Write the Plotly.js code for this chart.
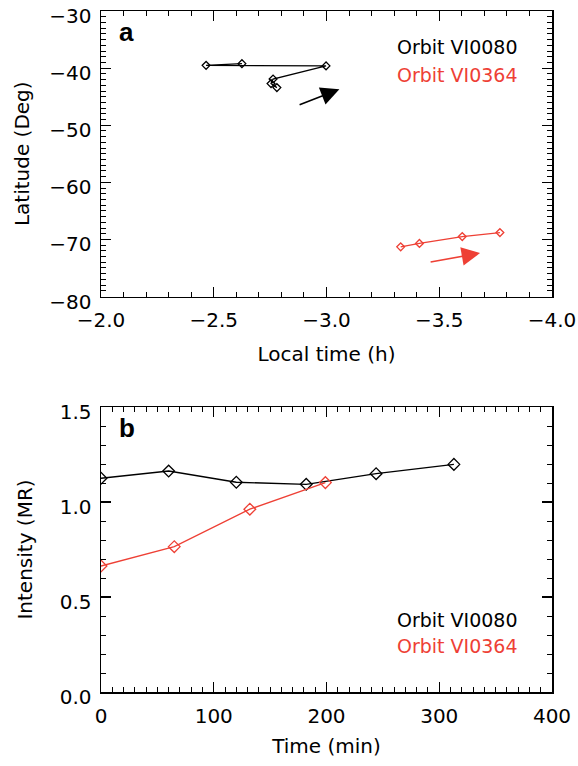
<!DOCTYPE html>
<html>
<head>
<meta charset="utf-8">
<script src="https://cdn.plot.ly/plotly-3.0.1.min.js"></script>
<style>html,body{margin:0;padding:0;background:#fff;}#chart{width:578px;height:766px;}</style>
</head>
<body>
<div id="chart"></div>
<script>
// Panel a: local time (h) vs latitude (deg)
const aBlackTime = [-2.625, -2.466, -2.998, -2.763, -2.754, -2.780];
const aBlackLat  = [-39.2, -39.5, -39.6, -41.9, -42.7, -43.4];
const aRedTime   = [-3.329, -3.412, -3.602, -3.769];
const aRedLat    = [-71.3, -70.7, -69.5, -68.8];
// arrows [tailX, tailY, tipX, tipY]
const blackArrow = [-2.874, -46.5, -3.057, -43.7];
const redArrow   = [-3.455, -74.0, -3.681, -72.4];

// Panel b: time (min) vs intensity (MR)
const bBlackTime = [0, 60, 120, 182, 244, 313];
const bBlackInt  = [1.125, 1.163, 1.104, 1.093, 1.149, 1.198];
const bRedTime   = [0, 65, 132, 199];
const bRedInt    = [0.663, 0.765, 0.962, 1.102];

const legendNames = ['Orbit VI0080', 'Orbit VI0364'];
const panelLetters = ['a', 'b'];

const BLACK = '#000000';
const RED = '#EE4035';
const FONT = 'DejaVu Sans, sans-serif';

const traces = [
  {x: aBlackTime, y: aBlackLat, xaxis: 'x', yaxis: 'y', mode: 'lines+markers',
   line: {color: BLACK, width: 1.3}, marker: {symbol: 'diamond-open', size: 6, color: BLACK, line: {width: 1.3}}},
  {x: aRedTime, y: aRedLat, xaxis: 'x', yaxis: 'y', mode: 'lines+markers',
   line: {color: RED, width: 1.3}, marker: {symbol: 'diamond-open', size: 6, color: RED, line: {width: 1.3}}},
  {x: bBlackTime, y: bBlackInt, xaxis: 'x2', yaxis: 'y2', mode: 'lines+markers',
   line: {color: BLACK, width: 1.3}, marker: {symbol: 'diamond-open', size: 9, color: BLACK, line: {width: 1.3}}},
  {x: bRedTime, y: bRedInt, xaxis: 'x2', yaxis: 'y2', mode: 'lines+markers',
   line: {color: RED, width: 1.3}, marker: {symbol: 'diamond-open', size: 9, color: RED, line: {width: 1.3}}}
];

const axisCommon = {
  showgrid: false, zeroline: false, showline: true, linecolor: BLACK, linewidth: 1.5,
  mirror: 'ticks', ticks: 'inside', ticklen: 10, tickwidth: 1.2, tickcolor: BLACK,
  ticklabeloverflow: 'allow',
  tickfont: {family: FONT, size: 20, color: BLACK}
};

function ax(extra) { return Object.assign({}, axisCommon, extra); }

const topA = 1.0, botA = (692 - 296.5) / 681, topB = (692 - 407) / 681;

const layout = {
  width: 578, height: 766,
  margin: {l: 101, r: 26, t: 11, b: 74, pad: 0},
  paper_bgcolor: '#fff', plot_bgcolor: '#fff',
  showlegend: false,
  font: {family: FONT, size: 20, color: BLACK},
  xaxis: ax({domain: [0, 1], anchor: 'y', range: [-2, -4], dtick: 0.5, tickformat: '.1f',
    ticklabelstandoff: 5,
    minor: {dtick: 0.1, ticklen: 5, tickwidth: 1, tickcolor: BLACK, ticks: 'inside', showgrid: false},
    title: {text: 'Local time (h)', font: {family: FONT, size: 20}, standoff: 16}}),
  yaxis: ax({domain: [botA, topA], anchor: 'x', range: [-80, -29.98], tick0: -80, dtick: 10,
    ticklabelstandoff: 4, ticklabelshift: 5,
    minor: {dtick: 1, ticklen: 5, tickwidth: 1, tickcolor: BLACK, ticks: 'inside', showgrid: false},
    title: {text: 'Latitude (Deg)', font: {family: FONT, size: 20}, standoff: 14}}),
  xaxis2: ax({domain: [0, 1], anchor: 'y2', range: [0, 400], dtick: 100,
    ticklabelstandoff: 5,
    minor: {dtick: 10, ticklen: 5, tickwidth: 1, tickcolor: BLACK, ticks: 'inside', showgrid: false},
    title: {text: 'Time (min)', font: {family: FONT, size: 20}, standoff: 12}}),
  yaxis2: ax({domain: [0, topB], anchor: 'x2', range: [0, 1.5], dtick: 0.5, tickformat: '.1f',
    ticklabelstandoff: 4, ticklabelshift: 5,
    minor: {dtick: 0.1, ticklen: 5, tickwidth: 1, tickcolor: BLACK, ticks: 'inside', showgrid: false},
    title: {text: 'Intensity (MR)', font: {family: FONT, size: 20}, standoff: 21}}),
  annotations: [
    {text: '<b>' + panelLetters[0] + '</b>', xref: 'x domain', yref: 'y domain', x: 0.035, y: 0.985,
     xanchor: 'left', yanchor: 'top', showarrow: false, font: {family: 'Liberation Sans, Arial, sans-serif', size: 26, color: BLACK}},
    {text: '<b>' + panelLetters[1] + '</b>', xref: 'x2 domain', yref: 'y2 domain', x: 0.035, y: 0.985,
     xanchor: 'left', yanchor: 'top', showarrow: false, font: {family: 'Liberation Sans, Arial, sans-serif', size: 26, color: BLACK}},
    {text: legendNames[0], xref: 'x domain', yref: 'y domain', x: 0.93, y: 0.875,
     xanchor: 'right', yanchor: 'middle', showarrow: false, font: {family: FONT, size: 19, color: BLACK}},
    {text: legendNames[1], xref: 'x domain', yref: 'y domain', x: 0.93, y: 0.775,
     xanchor: 'right', yanchor: 'middle', showarrow: false, font: {family: FONT, size: 19, color: RED}},
    {text: legendNames[0], xref: 'x2 domain', yref: 'y2 domain', x: 0.93, y: 0.252,
     xanchor: 'right', yanchor: 'middle', showarrow: false, font: {family: FONT, size: 19, color: BLACK}},
    {text: legendNames[1], xref: 'x2 domain', yref: 'y2 domain', x: 0.93, y: 0.162,
     xanchor: 'right', yanchor: 'middle', showarrow: false, font: {family: FONT, size: 19, color: RED}},
    {text: '', xref: 'x', yref: 'y', axref: 'x', ayref: 'y',
     x: blackArrow[2], y: blackArrow[3], ax: blackArrow[0], ay: blackArrow[1],
     showarrow: true, arrowhead: 2, arrowsize: 2.3, arrowwidth: 1.6, arrowcolor: BLACK},
    {text: '', xref: 'x', yref: 'y', axref: 'x', ayref: 'y',
     x: redArrow[2], y: redArrow[3], ax: redArrow[0], ay: redArrow[1],
     showarrow: true, arrowhead: 2, arrowsize: 2.3, arrowwidth: 1.6, arrowcolor: RED}
  ]
};

Plotly.newPlot('chart', traces, layout, {staticPlot: true, displayModeBar: false});
</script>
</body>
</html>
